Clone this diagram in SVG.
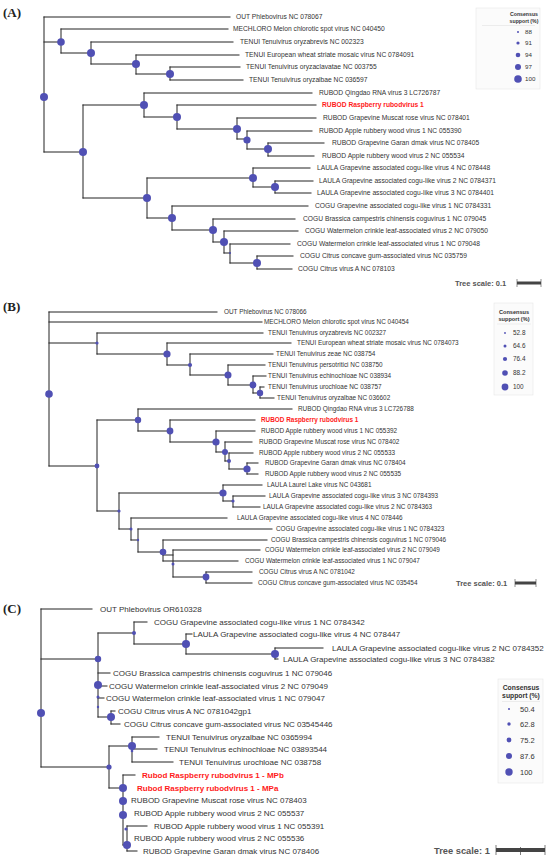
<svg xmlns="http://www.w3.org/2000/svg" width="550" height="863" viewBox="0 0 550 863">
<style>
.e{stroke:#222;stroke-width:1;fill:none;stroke-linecap:square}
.n{fill:#5050b4}
.a{font-family:"Liberation Sans",Arial,sans-serif;font-size:6.7px;fill:#333}
.b{font-family:"Liberation Sans",Arial,sans-serif;font-size:6.4px;fill:#333}
.c{font-family:"Liberation Sans",Arial,sans-serif;font-size:8px;fill:#333}
.r{fill:#ff1a1a;font-weight:bold}
.pl{font-family:"Liberation Serif","Times New Roman",serif;font-size:13px;font-weight:bold;fill:#222}
.lt{font-family:"Liberation Sans",Arial,sans-serif;font-weight:bold;fill:#333;text-anchor:middle}
.lg{font-family:"Liberation Sans",Arial,sans-serif;fill:#333}
.ts{font-family:"Liberation Sans",Arial,sans-serif;font-weight:bold;fill:#555}
.box{fill:#fbfbfb;stroke:#e6e6e6;stroke-width:0.6}
</style>
<rect width="550" height="863" fill="#fff"/>
<text class="pl" x="3" y="17">(A)</text>
<text class="pl" x="3" y="311">(B)</text>
<text class="pl" x="3" y="613">(C)</text>
<g id="connectors">
<path class="e" d="M44,17V152M44,17H230M44,42H61M44,152H83"/>
<path class="e" d="M61,29V53M61,29H228M61,53H91"/>
<path class="e" d="M91,42V64M91,42H233M91,64H136"/>
<path class="e" d="M136,55V74M136,55H239M136,74H170"/>
<path class="e" d="M170,67V80M170,67H240M170,80H243"/>
<path class="e" d="M83,105V198M83,105H144M83,198H147"/>
<path class="e" d="M144,93V117M144,93H312M144,117H177"/>
<path class="e" d="M177,105V129M177,105H316M177,129H237"/>
<path class="e" d="M237,118V139M237,118H316M237,139H247"/>
<path class="e" d="M247,131V149M247,131H312M247,149H268"/>
<path class="e" d="M268,143V156M268,143H324M268,156H314"/>
<path class="e" d="M147,178V218M147,178H253M147,218H172"/>
<path class="e" d="M253,168V187M253,168H310M253,187H275"/>
<path class="e" d="M275,181V193M275,181H313M275,193H311"/>
<path class="e" d="M172,206V230M172,206H308M172,230H213"/>
<path class="e" d="M213,219V242M213,219H295M213,242H224"/>
<path class="e" d="M224,231V253M224,231H298M224,253H230"/>
<path class="e" d="M230,244V263M230,244H290M230,263H257"/>
<path class="e" d="M257,256V269M257,256H293M257,269H292"/>

<path class="e" d="M49,312V466M49,312H217M49,322H262M49,343H97M49,466H97"/>
<path class="e" d="M97,333V354M97,333H263M97,354H167"/>
<path class="e" d="M167,343V365M167,343H291M167,365H190"/>
<path class="e" d="M190,354V375M190,354H273M190,375H228"/>
<path class="e" d="M228,365V385M228,365H265M228,385H253"/>
<path class="e" d="M253,376V393M253,376H266M253,393H260"/>
<path class="e" d="M260,387V398M260,387H264M260,398H274"/>
<path class="e" d="M97,420V511M97,420H138M97,511H119"/>
<path class="e" d="M138,409V431M138,409H292M138,431H170"/>
<path class="e" d="M170,420V442M170,420H255M170,442H216"/>
<path class="e" d="M216,431V452M216,431H255M216,452H225"/>
<path class="e" d="M225,442V461M225,442H252M225,461H229"/>
<path class="e" d="M229,453V469M229,453H253M229,469H247"/>
<path class="e" d="M247,463V474M247,463H258M247,474H258"/>
<path class="e" d="M119,493V529M119,493H223M119,529H131"/>
<path class="e" d="M223,485V501M223,485H262M223,501H233"/>
<path class="e" d="M233,496V507M233,496H265M233,507H260"/>
<path class="e" d="M131,518V540M131,518H227M131,540H138"/>
<path class="e" d="M138,529V552M138,529H272M138,552H163"/>
<path class="e" d="M163,540V561M163,540H267M163,561H238M163,555H173"/>
<path class="e" d="M173,550V577M173,550H260M173,577H206"/>
<path class="e" d="M206,572V583M206,572H252M206,583H252"/>

<path class="e" d="M41,609V767M41,609H92M41,659H98M41,767H109"/>
<path class="e" d="M98,633V717M98,633H134M98,673H110M98,686H107M98,698H104M98,717H111"/>
<path class="e" d="M134,622V644M134,622H147M134,644H186"/>
<path class="e" d="M186,634V654M186,634H192M186,654H275"/>
<path class="e" d="M275,648V659M275,648H323M275,659H278"/>
<path class="e" d="M111,711V724M111,711H115M111,724H120"/>
<path class="e" d="M109,746V788M109,746H132M109,788H123"/>
<path class="e" d="M132,737V762M132,737H159M132,749H157M132,762H173"/>
<path class="e" d="M123,775V845M123,775H135M123,845H127M127,826V851M127,826H147M127,851H137"/>
</g>

<g id="nodesA">
<circle id="nA1" class="n" cx="44" cy="97" r="4"/>
<circle id="nA2" class="n" cx="61" cy="42" r="3.8"/>
<circle id="nA3" class="n" cx="91" cy="53" r="4"/>
<circle id="nA4" class="n" cx="136" cy="64" r="4"/>
<circle id="nA5" class="n" cx="170" cy="74" r="4"/>
<circle id="nA6" class="n" cx="83" cy="152" r="4"/>
<circle id="nA7" class="n" cx="144" cy="105" r="4"/>
<circle id="nA8" class="n" cx="177" cy="117" r="4"/>
<circle id="nA9" class="n" cx="237" cy="129" r="4"/>
<circle id="nA10" class="n" cx="247" cy="140" r="3.6"/>
<circle id="nA11" class="n" cx="268" cy="149" r="4"/>
<circle id="nA12" class="n" cx="147" cy="198" r="4"/>
<circle id="nA13" class="n" cx="253" cy="178" r="4"/>
<circle id="nA14" class="n" cx="275" cy="187" r="4"/>
<circle id="nA15" class="n" cx="172" cy="218" r="4"/>
<circle id="nA16" class="n" cx="213" cy="230" r="4"/>
<circle id="nA17" class="n" cx="224" cy="242" r="4"/>
<circle id="nA18" class="n" cx="230" cy="253" r="1"/>
<circle id="nA19" class="n" cx="257" cy="263" r="4"/>
</g>
<g id="labelsA">
<text id="lA1" class="a" x="236" y="19.4">OUT Phlebovirus NC 078067</text>
<text id="lA2" class="a" x="233" y="31.4">MECHLORO Melon chlorotic spot virus NC 040450</text>
<text id="lA3" class="a" x="240" y="44.4">TENUI Tenuivirus oryzabrevis NC 002323</text>
<text id="lA4" class="a" x="245" y="57.4">TENUI European wheat striate mosaic virus NC 0784091</text>
<text id="lA5" class="a" x="246" y="69.4">TENUI Tenuivirus oryzaclavatae NC 003755</text>
<text id="lA6" class="a" x="249" y="82.4">TENUI Tenuivirus oryzalbae NC 036597</text>
<text id="lA7" class="a" x="319" y="95.4">RUBOD Qingdao RNA virus 3 LC726787</text>
<text id="lA8" class="a r" x="322" y="107.4">RUBOD Raspberry rubodvirus 1</text>
<text id="lA9" class="a" x="323" y="120.4">RUBOD Grapevine Muscat rose virus NC 078401</text>
<text id="lA10" class="a" x="319" y="133.4">RUBOD Apple rubbery wood virus 1 NC 055390</text>
<text id="lA11" class="a" x="332" y="145.4">RUBOD Grapevine Garan dmak virus NC 078405</text>
<text id="lA12" class="a" x="322" y="158.4">RUBOD Apple rubbery wood virus 2 NC 055534</text>
<text id="lA13" class="a" x="317" y="170.4">LAULA Grapevine associated cogu-like virus 4 NC 078448</text>
<text id="lA14" class="a" x="319" y="183.4">LAULA Grapevine associated cogu-like virus 2 NC 0784371</text>
<text id="lA15" class="a" x="317" y="195.4">LAULA Grapevine associated cogu-like virus 3 NC 0784401</text>
<text id="lA16" class="a" x="315" y="208.4">COGU Grapevine associated cogu-like virus 1 NC 0784331</text>
<text id="lA17" class="a" x="303" y="221.4">COGU Brassica campestris chinensis coguvirus 1 NC 079045</text>
<text id="lA18" class="a" x="305" y="233.4">COGU Watermelon crinkle leaf-associated virus 2 NC 079050</text>
<text id="lA19" class="a" x="297" y="246.4">COGU Watermelon crinkle leaf-associated virus 1 NC 079048</text>
<text id="lA20" class="a" x="300" y="258.4">COGU Citrus concave gum-associated virus NC 035759</text>
<text id="lA21" class="a" x="298" y="271.4">COGU Citrus virus A NC 078103</text>
</g>
<g id="legendA">
<rect class="box" x="476" y="8" width="64" height="81"/>
<text class="lt" x="524" y="16" font-size="5.2">Consensus</text>
<text class="lt" x="524" y="22.5" font-size="5.2">support (%)</text>
<line x1="482" y1="25.5" x2="535" y2="25.5" stroke="#ddd" stroke-width="0.5"/>
<circle class="n" cx="518" cy="32" r="1"/>
<circle class="n" cx="518" cy="43" r="1.6"/>
<circle class="n" cx="518" cy="55" r="2.3"/>
<circle class="n" cx="518" cy="67" r="3"/>
<circle class="n" cx="518" cy="79" r="3.8"/>
<text class="lg" x="525" y="34.2" font-size="6.2">88</text>
<text class="lg" x="525" y="45.2" font-size="6.2">91</text>
<text class="lg" x="525" y="57.2" font-size="6.2">94</text>
<text class="lg" x="525" y="69.2" font-size="6.2">97</text>
<text class="lg" x="525" y="81.2" font-size="6.2">100</text>
</g>
<g id="scaleA">
<text class="ts" x="455" y="285.7" font-size="7.5">Tree scale: 0.1</text>
<rect x="517" y="281.5" width="24" height="3" fill="#444"/>
<line x1="517" y1="279" x2="517" y2="287" stroke="#444" stroke-width="0.6"/>
<line x1="541" y1="279" x2="541" y2="287" stroke="#444" stroke-width="0.6"/>
</g>

<g id="nodesB">
<circle id="nB1" class="n" cx="49" cy="394" r="3.8"/>
<circle id="nB2" class="n" cx="97" cy="343" r="1.6"/>
<circle id="nB3" class="n" cx="167" cy="354" r="3.6"/>
<circle id="nB4" class="n" cx="190" cy="365" r="2.1"/>
<circle id="nB5" class="n" cx="228" cy="375" r="3.5"/>
<circle id="nB6" class="n" cx="253" cy="385" r="3.4"/>
<circle id="nB7" class="n" cx="260" cy="393" r="3.2"/>
<circle id="nB8" class="n" cx="97" cy="466" r="2.4"/>
<circle id="nB9" class="n" cx="138" cy="420" r="3.2"/>
<circle id="nB10" class="n" cx="170" cy="431" r="3.4"/>
<circle id="nB11" class="n" cx="216" cy="442" r="3.6"/>
<circle id="nB12" class="n" cx="225" cy="452" r="3"/>
<circle id="nB13" class="n" cx="229" cy="461" r="2"/>
<circle id="nB14" class="n" cx="247" cy="469" r="3.6"/>
<circle id="nB15" class="n" cx="119" cy="511" r="1.6"/>
<circle id="nB16" class="n" cx="223" cy="493" r="3.6"/>
<circle id="nB17" class="n" cx="233" cy="501" r="1.6"/>
<circle id="nB18" class="n" cx="131" cy="529" r="1.5"/>
<circle id="nB19" class="n" cx="138" cy="540" r="1.2"/>
<circle id="nB20" class="n" cx="163" cy="552" r="3.3"/>
<circle id="nB21" class="n" cx="173" cy="564" r="1.5"/>
<circle id="nB22" class="n" cx="206" cy="577" r="3.4"/>
</g>
<g id="labelsB">
<text id="lB1" class="b" x="224" y="314.3">OUT Phlebovirus NC 078066</text>
<text id="lB2" class="b" x="264" y="324.3">MECHLORO Melon chlorotic spot virus NC 040454</text>
<text id="lB3" class="b" x="268" y="335.3">TENUI Tenuivirus oryzabrevis NC 002327</text>
<text id="lB4" class="b" x="297" y="345.3">TENUI European wheat striate mosaic virus NC 0784073</text>
<text id="lB5" class="b" x="276" y="356.3">TENUI Tenuivirus zeae NC 038754</text>
<text id="lB6" class="b" x="268" y="367.3">TENUI Tenuivirus persotritici NC 038750</text>
<text id="lB7" class="b" x="268" y="378.3">TENUI Tenuivirus echinochloae NC 038934</text>
<text id="lB8" class="b" x="268" y="389.3">TENUI Tenuivirus urochloae NC 038757</text>
<text id="lB9" class="b" x="277" y="400.3">TENUI Tenuivirus oryzalbae NC 036602</text>
<text id="lB10" class="b" x="298" y="411.3">RUBOD Qingdao RNA virus 3 LC726788</text>
<text id="lB11" class="b r" x="261" y="422.3">RUBOD Raspberry rubodvirus 1</text>
<text id="lB12" class="b" x="261" y="433.3">RUBOD Apple rubbery wood virus 1 NC 055392</text>
<text id="lB13" class="b" x="259" y="444.3">RUBOD Grapevine Muscat rose virus NC 078402</text>
<text id="lB14" class="b" x="259" y="455.3">RUBOD Apple rubbery wood virus 2 NC 055533</text>
<text id="lB15" class="b" x="265" y="465.3">RUBOD Grapevine Garan dmak virus NC 078404</text>
<text id="lB16" class="b" x="265" y="476.3">RUBOD Apple rubbery wood virus 2 NC 055535</text>
<text id="lB17" class="b" x="267" y="487.3">LAULA Laurel Lake virus NC 043681</text>
<text id="lB18" class="b" x="269" y="498.3">LAULA Grapevine associated cogu-like virus 3 NC 0784393</text>
<text id="lB19" class="b" x="263" y="509.3">LAULA Grapevine associated cogu-like virus 2 NC 0784363</text>
<text id="lB20" class="b" x="237" y="520.3">LAULA Grapevine associated cogu-like virus 4 NC 078446</text>
<text id="lB21" class="b" x="276" y="531.3">COGU Grapevine associated cogu-like virus 1 NC 0784323</text>
<text id="lB22" class="b" x="271" y="542.3">COGU Brassica campestris chinensis coguvirus 1 NC 079046</text>
<text id="lB23" class="b" x="265" y="552.3">COGU Watermelon crinkle leaf-associated virus 2 NC 079049</text>
<text id="lB24" class="b" x="245" y="563.3">COGU Watermelon crinkle leaf-associated virus 1 NC 079047</text>
<text id="lB25" class="b" x="259" y="574.3">COGU Citrus virus A NC 0781042</text>
<text id="lB26" class="b" x="258" y="585.3">COGU Citrus concave gum-associated virus NC 035454</text>
</g>
<g id="legendB">
<rect class="box" x="494" y="303" width="39" height="92"/>
<text class="lt" x="514" y="313.5" font-size="5.6">Consensus</text>
<text class="lt" x="514" y="320.5" font-size="5.6">support (%)</text>
<line x1="497" y1="324" x2="531" y2="324" stroke="#ddd" stroke-width="0.5"/>
<circle class="n" cx="505" cy="333" r="0.9"/>
<circle class="n" cx="505" cy="346" r="1.5"/>
<circle class="n" cx="505" cy="359" r="2.1"/>
<circle class="n" cx="505" cy="373" r="2.8"/>
<circle class="n" cx="505" cy="387" r="3.4"/>
<text class="lg" x="513" y="335.3" font-size="6.4">52.8</text>
<text class="lg" x="513" y="348.3" font-size="6.4">64.6</text>
<text class="lg" x="513" y="361.3" font-size="6.4">76.4</text>
<text class="lg" x="513" y="375.3" font-size="6.4">88.2</text>
<text class="lg" x="513" y="389.3" font-size="6.4">100</text>
</g>
<g id="scaleB">
<text class="ts" x="456" y="585.7" font-size="7.5">Tree scale: 0.1</text>
<rect x="515" y="581.5" width="21" height="3" fill="#444"/>
<line x1="515" y1="579" x2="515" y2="587" stroke="#444" stroke-width="0.6"/>
<line x1="536" y1="579" x2="536" y2="587" stroke="#444" stroke-width="0.6"/>
</g>

<g id="nodesC">
<circle id="nC1" class="n" cx="41" cy="713" r="4"/>
<circle id="nC2" class="n" cx="98" cy="659" r="3.2"/>
<circle id="nC3" class="n" cx="134" cy="633" r="2"/>
<circle id="nC4" class="n" cx="186" cy="644" r="4"/>
<circle id="nC5" class="n" cx="275" cy="654" r="4"/>
<circle id="nC6" class="n" cx="98" cy="685" r="4"/>
<circle id="nC7" class="n" cx="98" cy="697" r="1.5"/>
<circle id="nC8" class="n" cx="98" cy="707" r="1.2"/>
<circle id="nC9" class="n" cx="111" cy="717" r="4"/>
<circle id="nC10" class="n" cx="109" cy="767" r="2.6"/>
<circle id="nC11" class="n" cx="132" cy="746" r="4"/>
<circle id="nC12" class="n" cx="132" cy="751" r="1.3"/>
<circle id="nC13" class="n" cx="123" cy="788" r="4"/>
<circle id="nC14" class="n" cx="123" cy="801" r="4"/>
<circle id="nC15" class="n" cx="123" cy="815" r="4"/>
<circle id="nC16" class="n" cx="126" cy="829" r="1.6"/>
<circle id="nC17" class="n" cx="127" cy="845" r="4"/>
</g>
<g id="labelsC">
<text id="lC1" class="c" x="100" y="612">OUT Phlebovirus OR610328</text>
<text id="lC2" class="c" x="154" y="625">COGU Grapevine associated cogu-like virus 1 NC 0784342</text>
<text id="lC3" class="c" x="193" y="637">LAULA Grapevine associated cogu-like virus 4 NC 078447</text>
<text id="lC4" class="c" x="332" y="651">LAULA Grapevine associated cogu-like virus 2 NC 0784352</text>
<text id="lC5" class="c" x="283" y="662">LAULA Grapevine associated cogu-like virus 3 NC 0784382</text>
<text id="lC6" class="c" x="113" y="676">COGU Brassica campestris chinensis coguvirus 1 NC 079046</text>
<text id="lC7" class="c" x="109" y="689">COGU Watermelon crinkle leaf-associated virus 2 NC 079049</text>
<text id="lC8" class="c" x="106" y="701">COGU Watermelon crinkle leaf-associated virus 1 NC 079047</text>
<text id="lC9" class="c" x="118" y="714">COGU Citrus virus A NC 0781042gp1</text>
<text id="lC10" class="c" x="124" y="727">COGU Citrus concave gum-associated virus NC 03545446</text>
<text id="lC11" class="c" x="166" y="740">TENUI Tenuivirus oryzalbae NC 0365994</text>
<text id="lC12" class="c" x="164" y="752">TENUI Tenuivirus echinochloae NC 03893544</text>
<text id="lC13" class="c" x="179" y="765">TENUI Tenuivirus urochloae NC 038758</text>
<text id="lC14" class="c r" x="142" y="778" fill="#ff3b3b">Rubod Raspberry rubodvirus 1 - MPb</text>
<text id="lC15" class="c r" x="137" y="791">Rubod Raspberry rubodvirus 1 - MPa</text>
<text id="lC16" class="c" x="131" y="803">RUBOD Grapevine Muscat rose virus NC 078403</text>
<text id="lC17" class="c" x="134" y="816">RUBOD Apple rubbery wood virus 2 NC 055537</text>
<text id="lC18" class="c" x="154" y="829">RUBOD Apple rubbery wood virus 1 NC 055391</text>
<text id="lC19" class="c" x="134" y="841">RUBOD Apple rubbery wood virus 2 NC 055536</text>
<text id="lC20" class="c" x="143" y="854">RUBOD Grapevine Garan dmak virus NC 078406</text>
</g>
<g id="legendC">
<rect class="box" x="498" y="679" width="45" height="104"/>
<text class="lt" x="521" y="689.5" font-size="6.8">Consensus</text>
<text class="lt" x="521" y="697.8" font-size="6.8">support (%)</text>
<line x1="502" y1="701.5" x2="540" y2="701.5" stroke="#ddd" stroke-width="0.5"/>
<circle class="n" cx="509" cy="709" r="1"/>
<circle class="n" cx="509" cy="724" r="1.7"/>
<circle class="n" cx="509" cy="740" r="2.4"/>
<circle class="n" cx="509" cy="756" r="3"/>
<circle class="n" cx="509" cy="772" r="3.7"/>
<text class="lg" x="520" y="711.7" font-size="7.5">50.4</text>
<text class="lg" x="520" y="726.7" font-size="7.5">62.8</text>
<text class="lg" x="520" y="742.7" font-size="7.5">75.2</text>
<text class="lg" x="520" y="758.7" font-size="7.5">87.6</text>
<text class="lg" x="520" y="774.7" font-size="7.5">100</text>
</g>
<g id="scaleC">
<text class="ts" x="434" y="853.5" font-size="9.3">Tree scale: 1</text>
<rect x="496" y="848" width="49" height="4" fill="#444"/>
<line x1="496" y1="845" x2="496" y2="855" stroke="#444" stroke-width="0.7"/>
<line x1="520.5" y1="847" x2="520.5" y2="855" stroke="#444" stroke-width="0.7"/>
<line x1="545" y1="845" x2="545" y2="855" stroke="#444" stroke-width="0.7"/>
</g>
</svg>
